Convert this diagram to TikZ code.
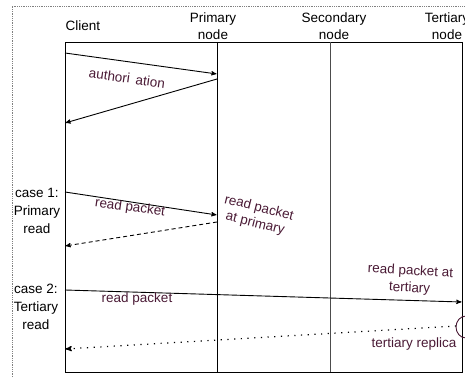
\documentclass[tikz,border=0pt]{standalone}
\usepackage{fontspec}
\setmainfont{Liberation Sans}
\usetikzlibrary{arrows}
\definecolor{msgtext}{HTML}{4A1A35}
\tikzset{
 lbl/.style={font=\fontsize{13.5}{17}\selectfont, align=center, inner sep=0},
 msg/.style={lbl, text=msgtext},
 arr/.style={black, line width=0.9pt, ->, >=stealth', shorten >=0.5pt}
}
\begin{document}
\begin{tikzpicture}[x=1pt,y=-1pt]
\useasboundingbox (0,0) rectangle (465,377);
\clip (0,0) rectangle (465,377);
\draw[gray, densely dotted, line width=0.8pt] (12,377) -- (12,6) -- (465,6);
% lifelines
\foreach \n/\x in {cl/65,pr/217,se/330,te/462} {
 \coordinate (\n top) at (\x,42);
 \coordinate (\n bot) at (\x,372);
}
\draw[line width=0.9pt] (cltop) rectangle (tebot);
\draw[line width=0.9pt] (prtop) -- (prbot);
\draw[black!70, line width=0.9pt] (setop) -- (sebot);
% heads
\node[lbl] (client) at (83,26) {Client};
\node[lbl] (primary) at (213,26) {Primary\\node};
\node[lbl] (secondary) at (334,26) {Secondary\\node};
\node[lbl] (tertiary) at (447,26) {Tertiary\\node};
\node[lbl, font=\fontsize{13.5}{18}\selectfont] (case1) at (37,211) {case 1:\\Primary\\read};
\node[lbl, font=\fontsize{13.5}{18}\selectfont] (case2) at (36,307) {case 2:\\Tertiary\\read};
% authorization
\coordinate (a1) at (65,53);  \coordinate (a2) at (217,74);
\coordinate (a3) at (217,79); \coordinate (a4) at (65,123);
\draw[arr] (a1) -- (a2);
\draw[arr] (a3) -- (a4);
\node[msg, rotate=-8] (auth) at (127,78) {authori\, ation};
% case 1
\coordinate (b1) at (65,192);  \coordinate (b2) at (217,215);
\coordinate (b3) at (217,222); \coordinate (b4) at (65,246);
\draw[arr] (b1) -- (b2);
\draw[arr, dash pattern=on 4pt off 3pt] (b3) -- (b4);
\node[msg, rotate=-8] (rp1) at (130,208) {read packet};
\node[msg, rotate=-14, font=\fontsize{13.5}{16}\selectfont] (rpp) at (257,216) {read packet\\at primary};
% case 2
\coordinate (c1) at (65,290);  \coordinate (c2) at (462,302);
\coordinate (c4) at (65,349);
\draw[arr] (c1) -- (c2);
\node[msg] (rp2) at (137,299) {read packet};
\node[msg, rotate=-3] (rpt) at (410,280) {read packet at\\tertiary};
\draw[msgtext, line width=0.9pt] (466,327) ellipse (10 and 11);
\coordinate (c3) at (456,326);
\draw[arr, line width=1.2pt, dash pattern=on 1.2pt off 5.5pt] (c3) -- (c4);
\node[msg] (rep) at (414,344) {tertiary replica};
\end{tikzpicture}
\end{document}
